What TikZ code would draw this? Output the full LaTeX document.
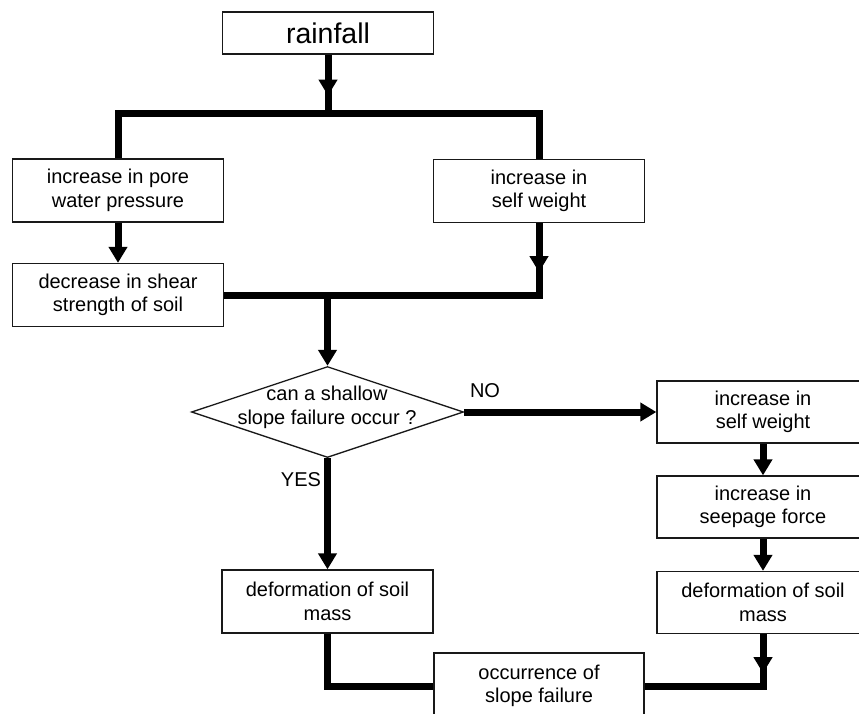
\documentclass[tikz,border=0pt]{standalone}
\usepackage{fontspec}
\setmainfont{Liberation Sans}
\usetikzlibrary{arrows.meta,shapes.geometric,decorations.markings}

\begin{document}
\begin{tikzpicture}[x=1pt,y=-1pt,
    box/.style={draw=black!90,line width=1.3pt,minimum width=211pt,minimum height=63pt,
      inner sep=0pt,align=center,font=\fontsize{20}{23.5}\selectfont},
    decision/.style={draw=black!90,line width=1.3pt,diamond,aspect=3,
      minimum width=272pt,minimum height=91pt,inner sep=0pt},
    tag/.style={font=\fontsize{20}{23.5}\selectfont,inner sep=0pt},
    link/.style={line width=7pt},
    flow/.style={line width=7pt,-{Triangle[width=18pt,length=16pt]}},
    midtip/.style={line width=7pt,postaction={decorate},
      decoration={markings,mark=at position #1 with {\arrow{Triangle[width=18pt,length=16pt]}}}}]
  \clip (0,0) rectangle (859,713);
  \fill[white] (0,0) rectangle (859,713);

  \node[box,minimum height=42pt,font=\fontsize{28.5}{32}\selectfont] (rain) at (328,33) {rainfall};
  \node[box] (pore) at (118,190.5) {increase in pore\\water pressure};
  \node[box] (sw1) at (539,191) {increase in\\self weight};
  \node[box] (shear) at (118,295) {decrease in shear\\strength of soil};
  \node[decision] (q) at (327.5,412) {};
  \node[tag,align=center] (qtext) at (327,407.5) {can a shallow\\slope failure occur ?};
  \node[box,minimum width=212pt,minimum height=62pt] (sw2) at (763,412) {increase in\\self weight};
  \node[box,minimum width=212pt,minimum height=62pt] (seep) at (763,507) {increase in\\seepage force};
  \node[box,minimum width=212pt,minimum height=62pt] (def2) at (763,602.5) {deformation of soil\\mass};
  \node[box] (def1) at (327.5,601.5) {deformation of soil\\mass};
  \node[box,minimum width=210pt,minimum height=66pt] (occur) at (539,686) {occurrence of\\slope failure};
  \node[tag] (no) at (485,391) {NO};
  \node[tag] (yes) at (301,480) {YES};

  \coordinate (split) at (328,113);
  \coordinate (merge) at (327.5,296);

  \draw[midtip=41pt] (rain.south) -- (split);
  \draw[link] (pore.north) |- (split) -| (sw1.north);
  \draw[flow] (pore) -- (shear);
  \draw[midtip=49pt] (sw1.south) |- (shear.east);
  \draw[flow] (merge) -- (q.north);
  \draw[flow] (q.east) -- (sw2.west);
  \draw[flow] (q.south) -- (def1.north);
  \draw[flow] (sw2) -- (seep);
  \draw[flow] (seep) -- (def2);
  \draw[midtip=39pt] (def2.south) |- (occur.east);
  \draw[link] (def1.south) |- (occur.west);
\end{tikzpicture}
\end{document}
